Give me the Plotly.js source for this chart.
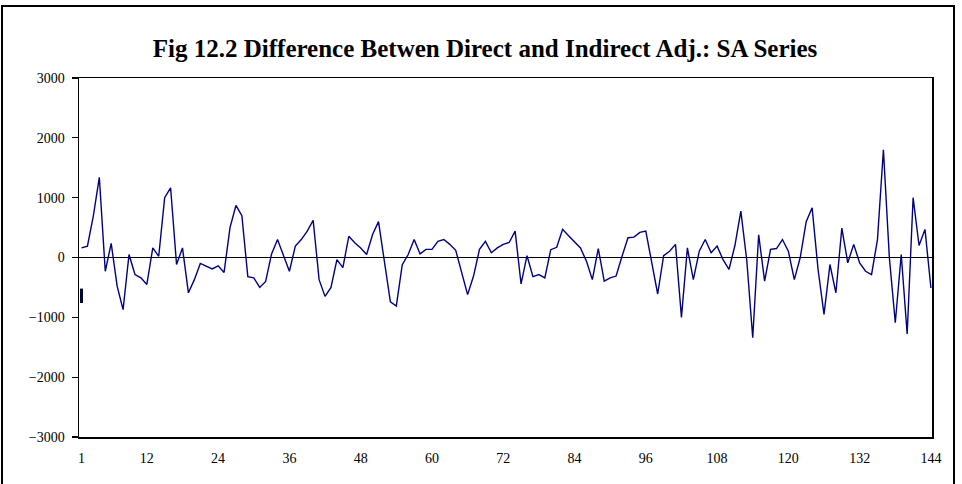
<!DOCTYPE html>
<html>
<head>
<meta charset="utf-8">
<script src="https://cdn.plot.ly/plotly-3.0.1.min.js"></script>
<style>
  html, body { margin: 0; padding: 0; background: #ffffff; }
  #wrap { position: relative; width: 962px; height: 484px; overflow: hidden; }
  #chart { position: absolute; left: 0; top: 0; width: 962px; height: 484px; }
  #frame { position: absolute; left: 1px; top: 5px; width: 954px; height: 520px;
           border: 2px solid #000; pointer-events: none; box-sizing: border-box; }
</style>
</head>
<body>
<div id="wrap">
  <div id="chart"></div>
  <div id="frame"></div>
</div>
<script>
// ---- data ----
const titleText = "Fig 12.2 Difference Betwen Direct and Indirect Adj.: SA Series";

const diffValues = [
  160, 190, 700, 1340, -230, 235, -480, -870, 50, -285,
  -340, -450, 160, 20, 1000, 1165, -117, 160, -590, -370,
  -100, -140, -190, -140, -250, 500, 870, 700, -320, -340,
  -500, -400, 60, 300, 50, -230, 190, 300, 440, 620,
  -370, -650, -500, -35, -170, 355, 245, 160, 50, 385,
  600, -30, -740, -810, -120, 50, 300, 60, 135, 135,
  270, 300, 220, 120, -230, -620, -310, 135, 270, 80,
  160, 220, 250, 440, -440, 30, -320, -285, -340, 130,
  170, 470, 365, 270, 160, -60, -370, 150, -395, -340,
  -310, 20, 330, 340, 420, 440, -60, -610, 30, 105,
  220, -1000, 160, -370, 105, 300, 80, 190, -35, -200,
  200, 775, -50, -1340, 380, -395, 135, 150, 300, 105,
  -370, 0, 600, 830, -200, -950, -117, -590, 490, -90,
  220, -90, -230, -285, 300, 1800, 0, -1090, 50, -1280,
  1000, 200, 470, -510
];
const periods = diffValues.map((v, i) => i + 1);

// small dark mark at the start of the series, as seen in the reference
const startMarkX = [1, 1];
const startMarkY = [-520, -760];

const xTickVals = [1, 12, 24, 36, 48, 60, 72, 84, 96, 108, 120, 132, 144];
const xTickText = ["1", "12", "24", "36", "48", "60", "72", "84", "96", "108", "120", "132", "144"];
const yTickVals = [-3000, -2000, -1000, 0, 1000, 2000, 3000];

// ---- chart ----
const serif = "'Liberation Serif', 'Times New Roman', serif";

const traces = [
  {
    x: periods, y: diffValues, type: "scatter", mode: "lines",
    line: { color: "#000080", width: 1.4 },
    hoverinfo: "x+y", showlegend: false
  },
  {
    x: startMarkX, y: startMarkY, type: "scatter", mode: "lines",
    line: { color: "#000033", width: 3 },
    hoverinfo: "skip", showlegend: false, cliponaxis: false
  }
];

const layout = {
  width: 962, height: 484,
  margin: { l: 79, r: 30, t: 78, b: 47 },
  paper_bgcolor: "#ffffff", plot_bgcolor: "#ffffff",
  showlegend: false,
  title: {
    text: "<b>" + titleText + "</b>",
    font: { family: serif, size: 25, color: "#000" },
    x: 0.476, xanchor: "center", y: 0.9, yanchor: "middle", xref: "paper"
  },
  xaxis: {
    range: [0.58, 144.18],
    tickmode: "array", tickvals: xTickVals, ticktext: xTickText,
    ticks: "", showgrid: false, zeroline: false,
    showline: true, linecolor: "#000", linewidth: 1.5, mirror: true,
    tickfont: { family: serif, size: 14, color: "#000" },
    ticklabelstandoff: 8
  },
  yaxis: {
    range: [-3000, 3000],
    tickmode: "array", tickvals: yTickVals,
    ticks: "outside", ticklen: 6, tickwidth: 1.2, tickcolor: "#000",
    showgrid: false,
    zeroline: true, zerolinecolor: "#000", zerolinewidth: 1.5,
    showline: true, linecolor: "#000", linewidth: 1.5, mirror: true,
    tickfont: { family: serif, size: 14, color: "#000" },
    ticklabelstandoff: 4
  }
};

Plotly.newPlot("chart", traces, layout, { displayModeBar: false, staticPlot: true });
</script>
</body>
</html>
